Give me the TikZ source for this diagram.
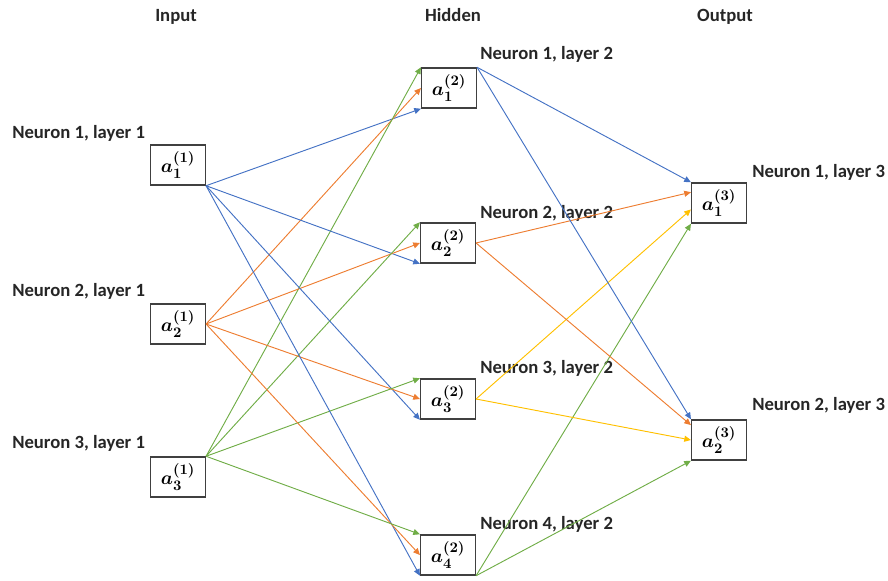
\documentclass[tikz,border=0pt]{standalone}
\usepackage{amsmath}
\usepackage{fontspec}
\newfontfamily\lblfont{Carlito}
\usetikzlibrary{arrows.meta}
\definecolor{wblue}{RGB}{68,114,196}
\definecolor{worange}{RGB}{237,125,49}
\definecolor{wgreen}{RGB}{112,173,71}
\definecolor{wyellow}{RGB}{255,192,0}
\tikzset{>={Triangle[length=5pt,width=4.5pt]}}
\tikzset{
	% boxes of the neurons
	neuron/.style={draw=black!75,line width=1.1pt,fill=white,
		minimum width=41pt,minimum height=30pt,inner sep=0pt,
		font=\boldmath\fontsize{15}{18}\selectfont},
	% texts
	lbl/.style={font=\lblfont\bfseries\fontsize{14}{16}\selectfont,
		text=black!85,inner sep=0pt,anchor=base west},
	% weight arrows
	wgt/.style={->,line width=0.7pt},
}

\begin{document}
\begin{tikzpicture}[x=0.75pt,y=-0.75pt]
\useasboundingbox (0,0) rectangle (888,581);
% the layer headings
\node[lbl,anchor=base] (tin) at (176,22) {Input};
\node[lbl,anchor=base] (thid) at (453,22) {Hidden};
\node[lbl,anchor=base] (tout) at (725,22) {Output};
% the neurons
\node[neuron] (in1) at (178,165) {$a_1^{(1)}$};
\node[neuron] (in2) at (178,324) {$a_2^{(1)}$};
\node[neuron] (in3) at (178,477) {$a_3^{(1)}$};
\node[neuron] (h1) at (449,88) {$a_1^{(2)}$};
\node[neuron] (h2) at (448,243) {$a_2^{(2)}$};
\node[neuron] (h3) at (448,399) {$a_3^{(2)}$};
\node[neuron] (h4) at (448,555) {$a_4^{(2)}$};
\node[neuron] (out1) at (719,203) {$a_1^{(3)}$};
\node[neuron] (out2) at (719,440) {$a_2^{(3)}$};
% their names
\node[lbl] (nin1) at (12,139) {Neuron 1, layer 1};
\node[lbl] (nin2) at (12,296) {Neuron 2, layer 1};
\node[lbl] (nin3) at (12,448) {Neuron 3, layer 1};
\node[lbl] (nh1) at (480,60) {Neuron 1, layer 2};
\node[lbl] (nh2) at (480,218) {Neuron 2, layer 2};
\node[lbl] (nh3) at (480,373) {Neuron 3, layer 2};
\node[lbl] (nh4) at (480,529) {Neuron 4, layer 2};
\node[lbl] (nout1) at (752,177) {Neuron 1, layer 3};
\node[lbl] (nout2) at (752,410) {Neuron 2, layer 3};
% weights from the input layer
\foreach \h in {1,...,4}{
  \draw[wgt,wblue] (in1.south east) -- (h\h.south west);
  \draw[wgt,worange] (in2.east) -- (h\h.west);
  \draw[wgt,wgreen] (in3.north east) -- (h\h.north west);
}
% weights from the hidden layer
\foreach \o/\ora/\yel in {1/159/193,2/152/180}{
  \draw[wgt,wblue] (h1.north east) -- (out\o.north west);
  \draw[wgt,worange] (h2.east) -- (out\o.\ora);
  \draw[wgt,wyellow] (h3.east) -- (out\o.\yel);
  \draw[wgt,wgreen] (h4.south east) -- (out\o.south west);
}
\end{tikzpicture}
\end{document}
